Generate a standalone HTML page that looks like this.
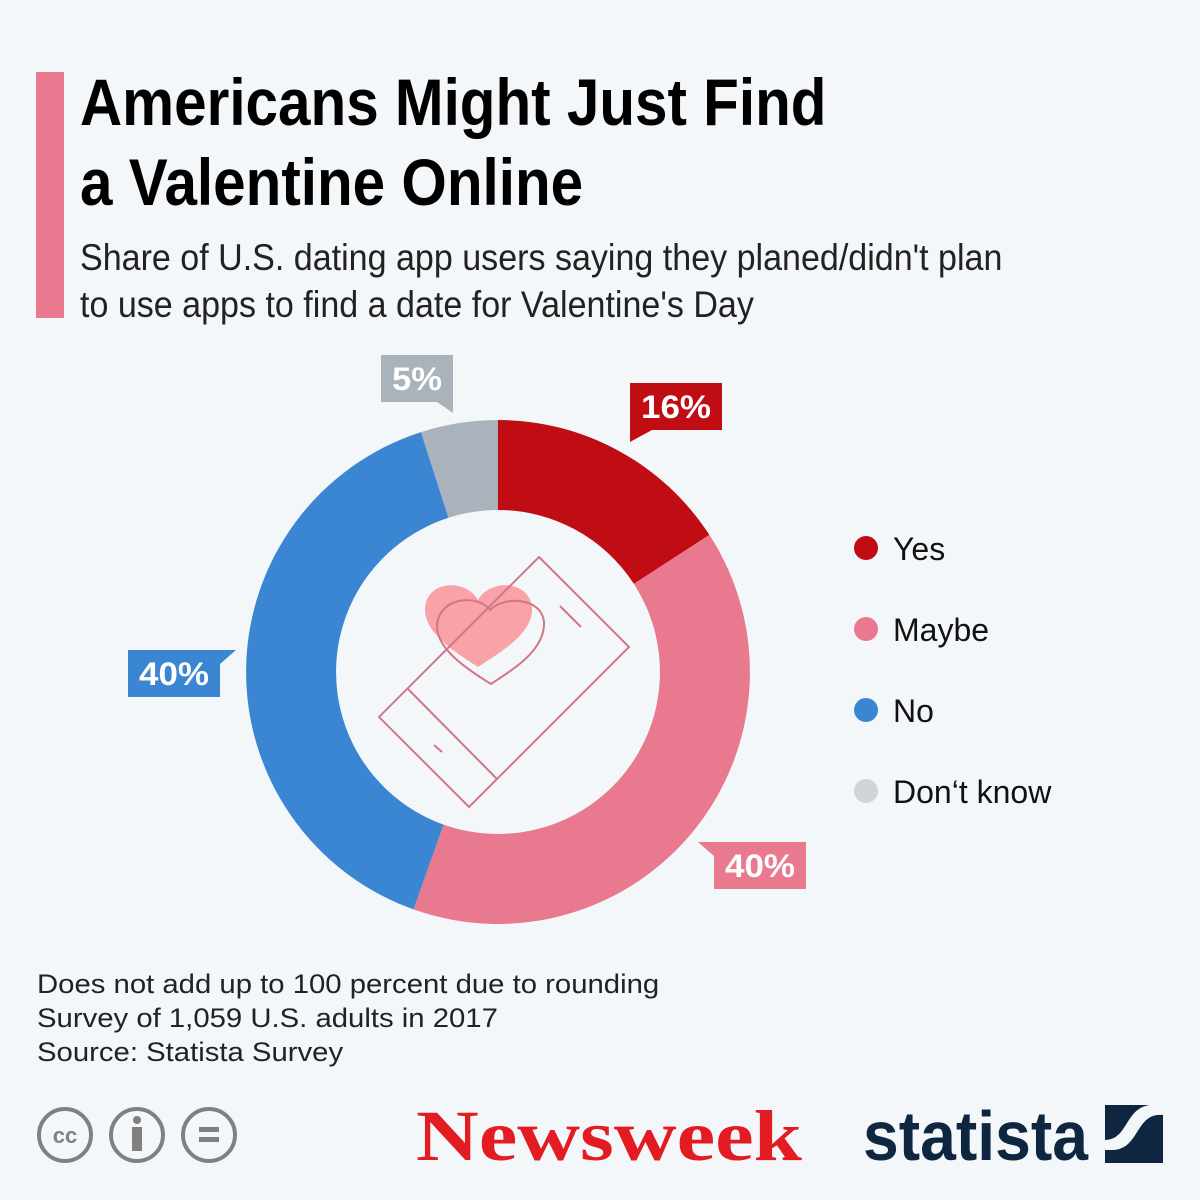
<!DOCTYPE html>
<html><head><meta charset="utf-8"><style>
body{margin:0;width:1200px;height:1200px;background:#f4f7fa;position:relative;overflow:hidden;font-family:"Liberation Sans",sans-serif}
.t{position:absolute;white-space:nowrap;transform-origin:0 0}
</style></head><body>
<div style="position:absolute;left:36px;top:72px;width:28px;height:246px;background:#e8798e"></div>
<div class="t" style="left:80px;top:62px;font-size:66px;font-weight:bold;color:#000;transform:scaleX(0.885);line-height:80px">Americans Might Just Find<br>a Valentine Online</div>
<div class="t" style="left:80px;top:234px;font-size:37px;color:#222;transform:scaleX(0.92);line-height:47px">Share of U.S. dating app users saying they planed/didn't plan<br>to use apps to find a date for Valentine's Day</div>
<svg width="1200" height="1200" style="position:absolute;left:0;top:0">
<path d="M498,420 A252,252 0 0 1 709.4,534.9 L633.9,583.9 A162,162 0 0 0 498,510 Z" fill="#c00d14"/>
<path d="M709.4,534.9 A252,252 0 0 1 413.5,909.4 L443.6,824.6 A162,162 0 0 0 633.9,583.9 Z" fill="#e8798e"/>
<path d="M413.5,909.4 A252,252 0 0 1 421,432.1 L448.5,517.8 A162,162 0 0 0 443.6,824.6 Z" fill="#3a86d3"/>
<path d="M421,432.1 A252,252 0 0 1 498,420 L498,510 A162,162 0 0 0 448.5,517.8 Z" fill="#aab3bb"/>
<path d="M478,600 C466,578 425,580 425,610 C425,635 460,655 478,667 C496,655 532,635 532,610 C532,580 490,578 478,600 Z" fill="#f9a3a8"/>
<g fill="none" stroke="#d27586" stroke-width="2">
<path d="M539,557 L629,647 L469,807 L379,717 Z"/>
<path d="M408,689 L497,779"/><path d="M560,606 L581,627"/><path d="M434,745 L442,752"/>
<path d="M490,610 C480,595 440,595 437,625 C436,648 465,668 491,684 C515,668 545,650 544,622 C542,598 505,595 490,610 Z"/>
</g>
<path d="M630,383 H722 V430 H652 L630,442 Z" fill="#c00d14"/>
<path d="M381,355 H453 V413 L437,402 H381 Z" fill="#aab3bb"/>
<path d="M128,650 H236 L220,664 V697 H128 Z" fill="#3a86d3"/>
<path d="M698,842 H806 V889 H714 V856 Z" fill="#e8798e"/>
<g font-family="Liberation Sans" font-weight="bold" font-size="32" fill="#fff">
<text x="641" y="418" textLength="70" lengthAdjust="spacingAndGlyphs">16%</text>
<text x="392" y="390" textLength="50" lengthAdjust="spacingAndGlyphs">5%</text>
<text x="139" y="685" textLength="70" lengthAdjust="spacingAndGlyphs">40%</text>
<text x="725" y="877" textLength="70" lengthAdjust="spacingAndGlyphs">40%</text>
</g>
<circle cx="866" cy="548" r="12" fill="#c00d14"/>
<circle cx="866" cy="629" r="12" fill="#e8798e"/>
<circle cx="866" cy="710" r="12" fill="#3a86d3"/>
<circle cx="866" cy="791" r="12" fill="#cfd4d8"/>
<g font-family="Liberation Sans" font-size="32" fill="#111">
<text x="893" y="560">Yes</text><text x="893" y="641">Maybe</text><text x="893" y="722">No</text><text x="893" y="803">Don‘t know</text>
</g>
<g fill="none" stroke="#808080" stroke-width="4">
<circle cx="65" cy="1135" r="26"/><circle cx="137" cy="1135" r="26"/><circle cx="209" cy="1135" r="26"/>
</g>
<text x="65" y="1143" font-family="Liberation Sans" font-weight="bold" font-size="22" fill="#808080" text-anchor="middle">cc</text>
<circle cx="137" cy="1120" r="4" fill="#808080"/><rect x="132" y="1127" width="10" height="24" fill="#808080"/>
<rect x="199" y="1127" width="20" height="5" fill="#808080"/><rect x="199" y="1137" width="20" height="5" fill="#808080"/>
<text x="416" y="1160" font-family="Liberation Serif" font-weight="bold" font-size="72" fill="#e31b23" textLength="386" lengthAdjust="spacingAndGlyphs">Newsweek</text>
<text x="863" y="1160" font-family="Liberation Sans" font-weight="bold" font-size="70" fill="#0f2640" textLength="225" lengthAdjust="spacingAndGlyphs">statista</text>
<rect x="1105" y="1105" width="58" height="58" fill="#0f2640"/>
<path d="M1163,1115 C1135,1112 1140,1150 1112,1150 L1105,1150 L1105,1140 C1128,1140 1125,1108 1150,1105 L1163,1105 Z" fill="#f4f7fa"/>
</svg>
<div class="t" style="left:37px;top:967px;font-size:27px;color:#222;line-height:34px;transform:scaleX(1.085)">Does not add up to 100 percent due to rounding<br>Survey of 1,059 U.S. adults in 2017<br>Source: Statista Survey</div>
</body></html>
